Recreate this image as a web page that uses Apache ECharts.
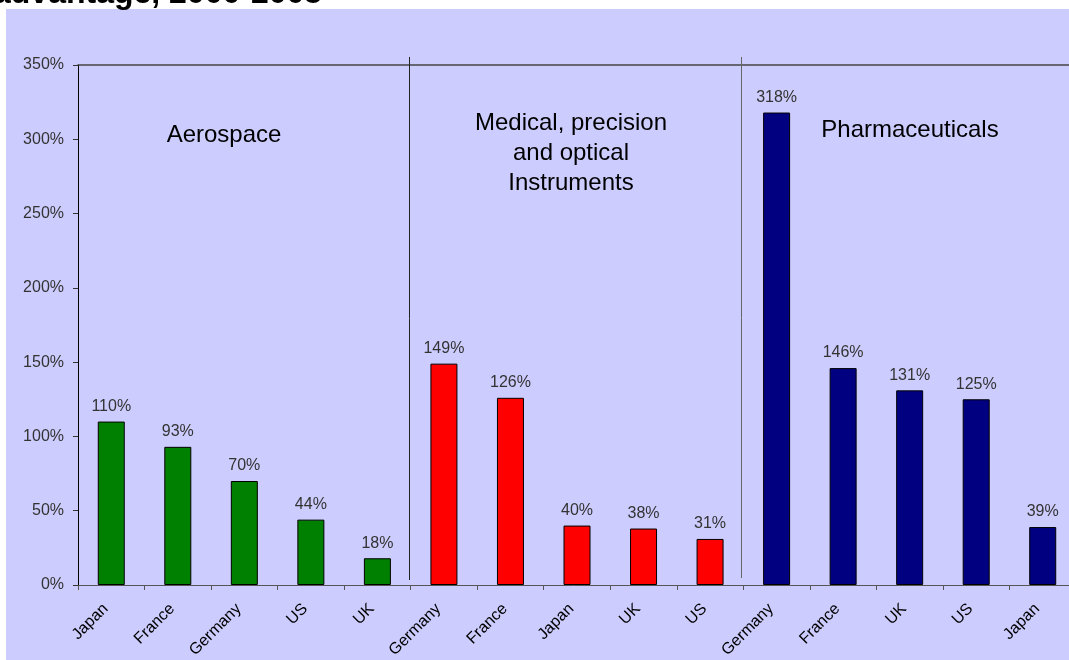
<!DOCTYPE html>
<html>
<head>
<meta charset="utf-8">
<script src="https://cdn.jsdelivr.net/npm/echarts@6/dist/echarts.min.js"></script>
<style>
  html, body { margin: 0; padding: 0; background: #fff; }
  #chart { width: 1069px; height: 660px; }
</style>
</head>
<body>
<div id="chart"></div>
<script>
// categories along the x axis, three sectors of five countries each
const categories = ['Japan', 'France', 'Germany', 'US', 'UK',
                    'Germany', 'France', 'Japan', 'UK', 'US',
                    'Germany', 'France', 'UK', 'US', 'Japan'];
const aerospace = [110, 93, 70, 44, 18];
const medical = [149, 126, 40, 38, 31];
const pharma = [318, 146, 131, 125, 39];
const yTicks = [0, 50, 100, 150, 200, 250, 300, 350];

var FONT = 'Arial, "Liberation Sans", sans-serif';

// pad each sector so it sits in its own slots
function pad(vals, start) {
  var out = [];
  for (var i = 0; i < categories.length; i++) {
    var k = i - start;
    out.push(k >= 0 && k < vals.length ? vals[k] : '-');
  }
  return out;
}

function barSeries(name, vals, start, color) {
  return {
    name: name,
    type: 'bar',
    barWidth: 27,
    barGap: '-100%',
    data: pad(vals, start),
    itemStyle: { color: color, borderColor: '#000', borderWidth: 1 },
    label: {
      show: true,
      position: 'top',
      distance: 7,
      formatter: '{c}%',
      color: '#333',
      fontSize: 16,
      fontFamily: FONT
    }
  };
}

var chart = echarts.init(document.getElementById('chart'));

chart.setOption({
  backgroundColor: '#fff',
  animation: false,
  grid: { left: 78, width: 998, top: 65, bottom: 75, containLabel: false, outerBoundsMode: 'none' },
  xAxis: [{
    type: 'category',
    data: categories,
    axisLine: { lineStyle: { color: '#555', width: 1 } },
    axisTick: { show: true, length: 5, lineStyle: { color: '#555' } },
    axisLabel: {
      rotate: 45,
      margin: 27,
      verticalAlign: 'bottom',
      color: '#000',
      fontSize: 16,
      fontFamily: FONT,
      interval: 0
    }
  }, {
    type: 'category',
    position: 'top',
    data: categories,
    axisLine: { show: true, lineStyle: { color: '#444', width: 1.5 } },
    axisTick: { show: false },
    axisLabel: { show: false }
  }],
  yAxis: {
    type: 'value',
    min: yTicks[0],
    max: yTicks[yTicks.length - 1],
    interval: 50,
    axisLine: { show: true, lineStyle: { color: '#000' } },
    axisTick: { show: true, length: 5, lineStyle: { color: '#333' } },
    splitLine: { show: false },
    axisLabel: {
      formatter: '{value}%',
      margin: 14,
      color: '#333',
      fontSize: 16,
      fontFamily: FONT
    }
  },
  series: [
    barSeries('Aerospace', aerospace, 0, '#008000'),
    barSeries('Medical, precision and optical Instruments', medical, 5, '#ff0000'),
    barSeries('Pharmaceuticals', pharma, 10, '#000080')
  ]
});

// separators between sectors, placed from the axis scale
var band = chart.convertToPixel({ xAxisIndex: 0 }, 1) - chart.convertToPixel({ xAxisIndex: 0 }, 0);
var yTop = chart.convertToPixel({ yAxisIndex: 0 }, 350);
var yBot = chart.convertToPixel({ yAxisIndex: 0 }, 0);
var sepX = [4, 9].map(function (i) {
  return Math.round(chart.convertToPixel({ xAxisIndex: 0 }, i) + band * 0.47) + 0.5;
});

var graphics = [
  { type: 'rect', z: -10, silent: true, shape: { x: 6, y: 9, width: 1100, height: 700 }, style: { fill: '#ccccff' } },
  { type: 'text', z: 10, style: { text: 'advantage, 2000-2005', x: -7, y: 10, verticalAlign: 'bottom', font: 'bold 32px ' + FONT, fill: '#000' } },
  { type: 'text', z: 10, style: { text: 'Aerospace', x: 224, y: 135, align: 'center', verticalAlign: 'middle', font: '24px ' + FONT, fill: '#000' } },
  { type: 'text', z: 10, style: { text: 'Medical, precision\nand optical\nInstruments', x: 571, y: 153, align: 'center', verticalAlign: 'middle', lineHeight: 30, font: '24px ' + FONT, fill: '#000' } },
  { type: 'text', z: 10, style: { text: 'Pharmaceuticals', x: 910, y: 130, align: 'center', verticalAlign: 'middle', font: '24px ' + FONT, fill: '#000' } }
];
sepX.forEach(function (x, i) {
  graphics.push({
    type: 'line', z: 10, silent: true,
    shape: { x1: x, y1: yTop - 8, x2: x, y2: yBot - (i === 0 ? 5 : 7) },
    style: { stroke: i === 0 ? '#222' : '#666', lineWidth: 1 }
  });
});
chart.setOption({ graphic: graphics });
</script>
</body>
</html>
